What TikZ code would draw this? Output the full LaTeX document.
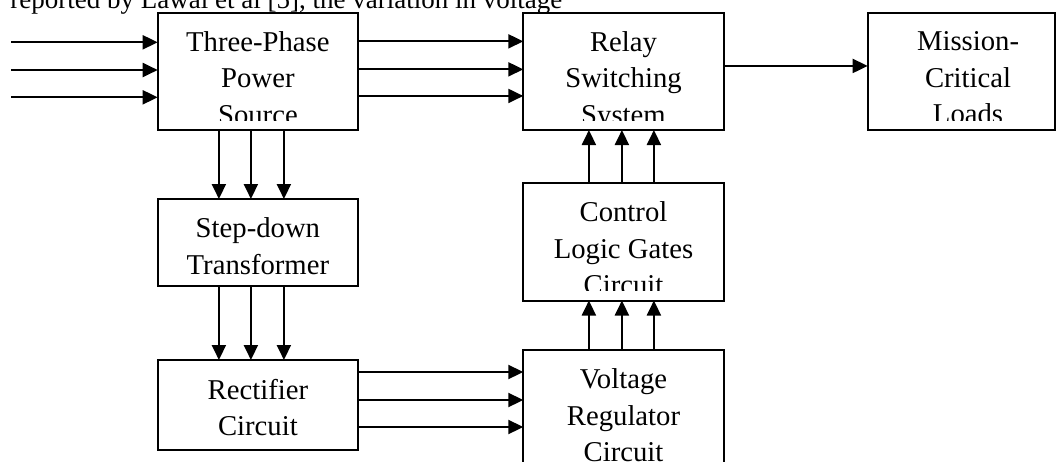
\documentclass[tikz,border=0pt]{standalone}
\usepackage{fontspec}
\setmainfont{Liberation Serif}
\usetikzlibrary{arrows.meta, positioning}

\begin{document}
\begin{tikzpicture}[
    blk/.style={rectangle, draw, line width=1pt, outer sep=0pt, minimum width=100.2pt},
    txt/.style={inner sep=0pt, align=center, font=\fontsize{14.35pt}{18.25pt}\selectfont},
    arr/.style={-{Triangle[length=7.5pt, width=7pt]}, line width=1pt}
  ]
    \useasboundingbox (0,0) rectangle (528pt,-230.5pt);

    % Line of the page above
    \node[anchor=base west, inner sep=0pt, font=\fontsize{13.5pt}{16pt}\selectfont] (para)
      at (5pt,-4.3pt) {reported by Lawal et al [5], the variation in voltage};

    % Left column
    \node[blk, minimum height=58.65pt, anchor=north west] (src) at (78.85pt,-6.35pt) {};
    \node[blk, minimum height=43.5pt, below=34.5pt of src] (step) {};
    \node[blk, minimum height=45pt, below=37pt of step] (rect) {};

    % Right column
    \node[blk, minimum height=58.65pt, right=82.6pt of src] (relay) {};
    \node[blk, minimum height=58.75pt, below=26.5pt of relay] (ctrl) {};
    \node[blk, minimum height=70pt, below=24.75pt of ctrl] (volt) {};
    \node[blk, minimum height=58.65pt, minimum width=93.75pt, right=72pt of relay] (load) {};

    % Labels, cut at the bottom like the text boxes
    \foreach \b/\dx/\lbl in {src/0/{Three-Phase\\Power\\Source},
        step/0/{Step-down\\Transformer}, rect/0/{Rectifier\\Circuit},
        relay/0/{Relay\\Switching\\System}, ctrl/0/{Control\\Logic Gates\\Circuit},
        volt/0/{Voltage\\Regulator\\Circuit}, load/3.3/{Mission-\\Critical\\Loads}}
    {
      \begin{scope}
        \clip ([yshift=5pt]\b.south west) rectangle (\b.north east);
        \node[txt, below=9.2pt of \b.north, xshift=\dx pt] (\b-txt) {\lbl};
      \end{scope}
    }

    % Arrows
    \foreach \i/\y in {1/21.15, 2/35, 3/48.65}
    {
      \coordinate (in\i) at (5.5pt,-\y pt);
      \draw[arr] (in\i) -- (in\i -| src.west);
    }
    \foreach \dy in {15, 1, -12.3}
      \draw[arr] ([yshift=\dy pt]src.east) -- ([yshift=\dy pt]relay.west);
    \draw[arr] ([yshift=2.7pt]relay.east) -- ([yshift=2.7pt]load.west);
    \foreach \dx in {-19.5, -3.5, 13}
    {
      \draw[arr] ([xshift=\dx pt]src.south) -- ([xshift=\dx pt]step.north);
      \draw[arr] ([xshift=\dx pt]step.south) -- ([xshift=\dx pt]rect.north);
    }
    \foreach \dx in {-17.3, -0.8, 15.2}
    {
      \draw[arr] ([xshift=\dx pt]volt.north) -- ([xshift=\dx pt]ctrl.south);
      \draw[arr] ([xshift=\dx pt]ctrl.north) -- ([xshift=\dx pt]relay.south);
    }
    \foreach \i/\dy in {1/16.5, 2/2.5, 3/-11}
    {
      \coordinate (r\i) at ([yshift=\dy pt]rect.east);
      \draw[arr] (r\i) -- (r\i -| volt.west);
    }
\end{tikzpicture}
\end{document}
